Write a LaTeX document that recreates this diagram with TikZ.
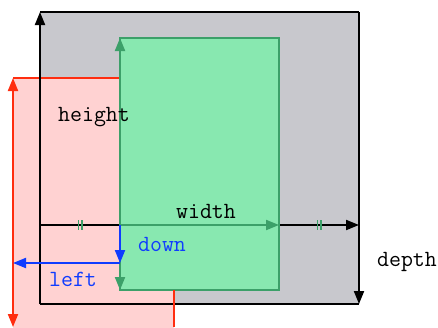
\documentclass[tikz,border=0pt]{standalone}
\usetikzlibrary{arrows.meta}
\definecolor{boxgray}{RGB}{200,200,205}
\definecolor{pinkfill}{RGB}{255,210,210}
\definecolor{redline}{RGB}{255,45,15}
\definecolor{greenfill}{RGB}{136,232,176}
\definecolor{greenline}{RGB}{60,160,105}
\definecolor{blueline}{RGB}{15,60,255}
\tikzset{
  tip/.style={-{Triangle[length=6.5pt,width=5pt]}},
  bitip/.style={{Triangle[length=6.5pt,width=5pt]}-{Triangle[length=6.5pt,width=5pt]}},
  blackline/.style={line width=1pt,black},
  redln/.style={line width=1pt,redline},
  greenln/.style={line width=1pt,greenline},
  blueln/.style={line width=1pt,blueline},
  lbl/.style={font=\ttfamily\fontsize{11.6}{13}\selectfont,inner sep=0pt},
  tick/.style={line width=0.9pt,greenline},
}
\begin{document}
\begin{tikzpicture}[x=0.5pt,y=-0.5pt]
\useasboundingbox (0,0) rectangle (438,327);
% coordinates
\coordinate (gTL) at (40,12);
\coordinate (gTR) at (359,12);
\coordinate (gBR) at (359,304);
\coordinate (gBL) at (40,304);
\coordinate (gML) at (40,225);
\coordinate (gMR) at (359,225);
\coordinate (rTL) at (13,78);
\coordinate (rTR) at (174,78);
\coordinate (rBR) at (174,327);
\coordinate (rBL) at (13,327);
\coordinate (nTL) at (120,38);
\coordinate (nTR) at (279,38);
\coordinate (nBR) at (279,290);
\coordinate (nBL) at (120,290);
\coordinate (nO) at (120,225);
\coordinate (nMR) at (279,225);
\coordinate (bD) at (120,263);
\coordinate (bL) at (13,263);
% gray box
\fill[boxgray] (gTL) rectangle (gBR);
% pink box
\fill[pinkfill] (rTL) rectangle (174,340);
\draw[redln] (rTL) -- (rTR) -- (rBR);
\draw[redln,bitip] (rTL) -- (rBL);
% black frame
\draw[blackline] (gBL) -- (gBR);
\draw[blackline,tip] (gBL) -- (gTL);
\draw[blackline] (gTL) -- (gTR);
\draw[blackline,tip] (gTR) -- (gBR);
\draw[blackline,tip] (gML) -- (gMR);
% green box
\draw[greenln,fill=greenfill] (nTL) rectangle (nBR);
\draw[greenln,tip] (nO) -- (nTL);
\draw[greenln,tip] (nO) -- (nBL);
\draw[greenln,tip] (nO) -- (nMR);
\draw[redln] (nBR -| rBR) -- (rBR);
% ticks
\draw[tick] (78.5,220) -- (78.5,230) (82,220) -- (82,230);
\draw[tick] (317.5,220) -- (317.5,230) (321,220) -- (321,230);
% blue
\draw[blueln,tip] (nO) -- (bD);
\draw[blueln,tip] (bD) -- (bL);
% labels
\node[lbl] (hlab) at (94,117) {height};
\node[lbl] (wlab) at (206,211) {width};
\node[lbl] (dlab) at (407,262) {depth};
\node[lbl,blueline] (dnlab) at (162,244) {down};
\node[lbl,blueline] (lflab) at (73,279) {left};
\end{tikzpicture}
\end{document}
